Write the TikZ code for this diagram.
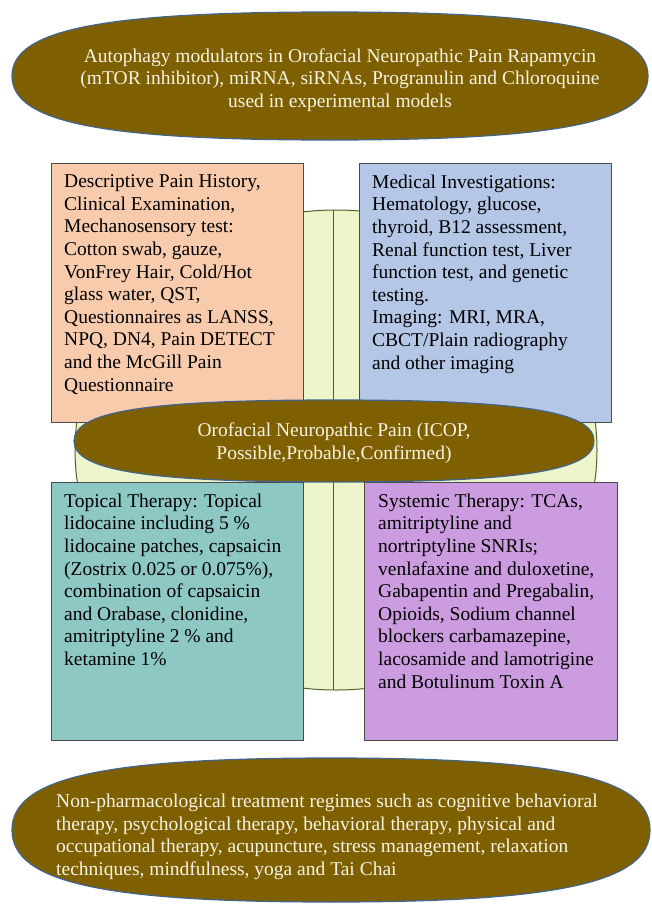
\documentclass[tikz,border=0pt]{standalone}
\usepackage{fontspec}
\setmainfont{Liberation Serif}
\usepackage{xcolor}
\usepackage{tikz}

\definecolor{capfill}{HTML}{7F6000}
\definecolor{capline}{HTML}{41658F}
\definecolor{captext}{HTML}{F6F3E4}
\definecolor{ringfill}{HTML}{EDF6CB}
\definecolor{ringline}{HTML}{4F6228}
\definecolor{boxline}{HTML}{4A4A4A}
\definecolor{histfill}{HTML}{F8CBAD}
\definecolor{investfill}{HTML}{B4C7E7}
\definecolor{topicalfill}{HTML}{8DC8C4}
\definecolor{systemicfill}{HTML}{CC9CE0}

% full oval: centre x, centre y, x radius, y radius
\newcommand{\capshape}[4]{%
    \filldraw[capsule] (#1-#3,#2) .. controls (#1-#3,#2-0.72*#4) and (#1-0.72*#3,#2-#4) .. (#1,#2-#4)
        .. controls (#1+0.72*#3,#2-#4) and (#1+#3,#2-0.72*#4) .. (#1+#3,#2)
        .. controls (#1+#3,#2+0.72*#4) and (#1+0.72*#3,#2+#4) .. (#1,#2+#4)
        .. controls (#1-0.72*#3,#2+#4) and (#1-#3,#2+0.72*#4) .. (#1-#3,#2) -- cycle;}

\tikzset{
    capsule/.style={fill=capfill, draw=capline, line width=1.2pt},
    capwords/.style={text=captext, inner sep=0pt, font=\fontsize{19.5}{23.5}\selectfont},
    boxframe/.style={rectangle, draw=boxline, line width=0.8pt, inner sep=0pt, outer sep=0pt, anchor=north west},
    boxwords/.style={anchor=north west, align=left, inner xsep=13pt, inner ysep=11.5pt, font=\fontsize{19.5}{22.6}\selectfont}
}

\begin{document}
\begin{tikzpicture}[x=1pt, y=-1pt]
            \useasboundingbox (0,0) rectangle (652,907);

            \coordinate (ring) at (336,450);
            \filldraw[fill=ringfill, draw=ringline, line width=1pt] (ring) ellipse [x radius=261, y radius=240];
            \draw[ringline, line width=1pt] (333,210) -- (333,690);

            \node[boxframe, fill=histfill, minimum width=252pt, minimum height=259pt] (histbox) at (51,163) {};
            \node[boxwords] (hist) at (histbox.north west) {Descriptive Pain History,\\ Clinical Examination,\\ Mechanosensory test:\\ Cotton swab, gauze,\\ VonFrey Hair, Cold/Hot\\ glass water, QST,\\ Questionnaires as LANSS,\\ NPQ, DN4, Pain DETECT\\ and the McGill Pain\\ Questionnaire};

            \node[boxframe, fill=investfill, minimum width=252pt, minimum height=259pt] (investbox) at (359,163) {};
            \node[boxwords] (invest) at (investbox.north west) {Medical Investigations:\\ Hematology, glucose,\\ thyroid, B12 assessment,\\ Renal function test, Liver\\ function test, and genetic\\ testing.\\ Imaging: MRI, MRA,\\ CBCT/Plain radiography\\ and other imaging};

            \node[boxframe, fill=topicalfill, minimum width=252pt, minimum height=258pt] (topicalbox) at (51,482) {};
            \node[boxwords] (topical) at (topicalbox.north west) {Topical Therapy: Topical\\ lidocaine including 5 \%\\ lidocaine patches, capsaicin\\ (Zostrix 0.025 or 0.075\%),\\ combination of capsaicin\\ and Orabase, clonidine,\\ amitriptyline 2 \% and\\ ketamine 1\%};

            \node[boxframe, fill=systemicfill, minimum width=253pt, minimum height=258pt] (systemicbox) at (364,482) {};
            \node[boxwords, inner xsep=14pt] (systemic) at (systemicbox.north west) {Systemic Therapy: TCAs,\\ amitriptyline and\\ nortriptyline SNRIs;\\ venlafaxine and duloxetine,\\ Gabapentin and Pregabalin,\\ Opioids, Sodium channel\\ blockers carbamazepine,\\ lacosamide and lamotrigine\\ and Botulinum Toxin A};

            \capshape{334}{441}{260}{41}
            \node[capwords, align=center] (pain) at (334,443) {Orofacial Neuropathic Pain (ICOP,\\ Possible,Probable,Confirmed)};

            \capshape{330}{76}{318}{64}
            \node[capwords, align=center, font=\fontsize{19.5}{22.6}\selectfont] (auto) at (340,80) {Autophagy modulators in Orofacial Neuropathic Pain Rapamycin\\ (mTOR inhibitor), miRNA, siRNAs, Progranulin and Chloroquine\\ used in experimental models};

            \capshape{331}{830}{319}{72}
            \node[capwords, align=left, anchor=west, font=\fontsize{19.5}{22.6}\selectfont] (nonpharm) at (56,837) {Non-pharmacological treatment regimes such as cognitive behavioral\\ therapy, psychological therapy, behavioral therapy, physical and\\ occupational therapy, acupuncture, stress management, relaxation\\ techniques, mindfulness, yoga and Tai Chai};
        \end{tikzpicture}
\end{document}
